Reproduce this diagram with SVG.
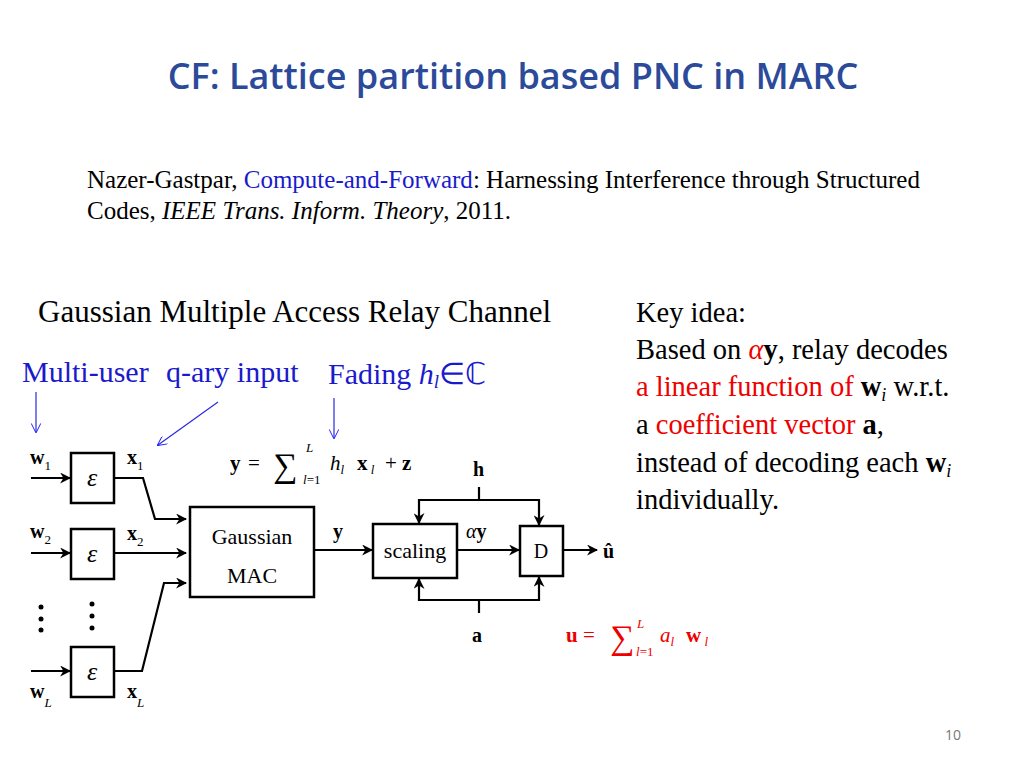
<svg xmlns="http://www.w3.org/2000/svg" width="1024" height="768" viewBox="0 0 1024 768">
<defs>
<marker id="ah" viewBox="0 0 10 10" refX="9" refY="5" markerWidth="5" markerHeight="5" orient="auto"><path d="M0,0 L10,5 L0,10 L3,5 z" fill="#000"/></marker>
<marker id="bh" viewBox="0 0 10 10" refX="9" refY="5" markerWidth="8" markerHeight="8" orient="auto"><path d="M0,0 L10,5 L0,10" fill="none" stroke="#1a1aff" stroke-width="1"/></marker>
</defs>
<style>
.t{font-family:"Liberation Serif",serif;fill:#000}
.r{fill:#e00}
.b{fill:#1a1acc}
.box{fill:#fff;stroke:#000;stroke-width:2.5}
.ln{fill:none;stroke:#000;stroke-width:2.2}
.bl{stroke:#2a2ae0;stroke-width:1.2;fill:none}
</style>
<rect width="1024" height="768" fill="#fff"/>
<text x="513" y="89" text-anchor="middle" font-family="'Open Sans','Noto Sans',sans-serif" font-size="36" font-weight="600" fill="#2b4a9a">CF: Lattice partition based PNC in MARC</text>
<text class="t" x="87" y="188" font-size="25">Nazer-Gastpar, <tspan class="b">Compute-and-Forward</tspan>: Harnessing Interference through Structured</text>
<text class="t" x="87" y="219" font-size="25">Codes, <tspan font-style="italic">IEEE Trans. Inform. Theory</tspan>, 2011.</text>
<text class="t" x="38" y="322" font-size="31">Gaussian Multiple Access Relay Channel</text>
<g font-size="28.5" class="t">
<text x="636" y="322">Key idea:</text>
<text x="636" y="359">Based on <tspan class="r" font-style="italic">α</tspan><tspan font-weight="bold">y</tspan>, relay decodes</text>
<text x="636" y="396"><tspan class="r">a linear function of </tspan><tspan font-weight="bold">w</tspan><tspan font-style="italic" font-size="18" dy="5">i</tspan><tspan dy="-5"> w.r.t.</tspan></text>
<text x="636" y="434">a <tspan class="r">coefficient vector </tspan><tspan font-weight="bold">a</tspan>,</text>
<text x="636" y="472">instead of decoding each <tspan font-weight="bold">w</tspan><tspan font-style="italic" font-size="18" dy="5">i</tspan></text>
<text x="636" y="509">individually.</text>
</g>
<text x="22" y="382" font-size="30" class="t b">Multi-user</text>
<text x="166" y="382" font-size="30" class="t b">q-ary input</text>
<text x="328" y="384" font-size="30" class="t b">Fading <tspan font-style="italic">h<tspan font-size="19" dy="4">l</tspan></tspan><tspan dy="-4">∈ℂ</tspan></text>
<g id="blue-arrows">
<line class="bl" x1="36" y1="392" x2="36" y2="432" marker-end="url(#bh)"/>
<line class="bl" x1="218" y1="402" x2="158" y2="445" marker-end="url(#bh)"/>
<line class="bl" x1="334" y1="398" x2="334" y2="438" marker-end="url(#bh)"/>
</g>
<g id="formula" class="t">
<text x="230" y="470" font-size="21" font-weight="bold">y</text>
<text x="248" y="470" font-size="21">=</text>
<text x="273" y="477" font-size="34">∑</text>
<text x="306" y="452" font-size="13" font-style="italic">L</text>
<text x="303" y="484" font-size="13"><tspan font-style="italic">l</tspan>=1</text>
<text x="330" y="470" font-size="21" font-style="italic">h<tspan font-size="13" dy="4">l</tspan></text>
<text x="357" y="470" font-size="21" font-weight="bold">x<tspan font-size="13" font-style="italic" font-weight="normal" dy="4"> l</tspan></text>
<text x="385" y="470" font-size="21">+ <tspan font-weight="bold">z</tspan></text>
</g>
<g id="encoders">
<rect class="box" x="71" y="453" width="43" height="50"/>
<rect class="box" x="71" y="529" width="43" height="50"/>
<rect class="box" x="71" y="647" width="43" height="50"/>
<text class="t" x="92" y="486" font-size="26" text-anchor="middle" font-style="italic">ε</text>
<text class="t" x="92" y="562" font-size="26" text-anchor="middle" font-style="italic">ε</text>
<text class="t" x="92" y="680" font-size="26" text-anchor="middle" font-style="italic">ε</text>
</g>
<g id="mac"><rect class="box" x="190" y="507" width="124" height="90"/>
<text class="t" x="252" y="544" font-size="22" text-anchor="middle">Gaussian</text>
<text class="t" x="252" y="583" font-size="22" text-anchor="middle">MAC</text></g>
<g id="scaling"><rect class="box" x="373" y="524" width="84" height="54"/>
<text class="t" x="415" y="558" font-size="22" text-anchor="middle">scaling</text></g>
<g id="D"><rect class="box" x="520" y="526" width="43" height="50"/>
<text class="t" x="541" y="558" font-size="20" text-anchor="middle">D</text></g>
<g id="labels" class="t" font-weight="bold" font-size="20">
<text x="30" y="464">w<tspan font-size="13" font-weight="normal" dy="6">1</tspan></text>
<text x="30" y="538">w<tspan font-size="13" font-weight="normal" dy="6">2</tspan></text>
<text x="30" y="698">w<tspan font-size="13" font-weight="normal" font-style="italic" dy="9">L</tspan></text>
<text x="127" y="464">x<tspan font-size="13" font-weight="normal" dy="6">1</tspan></text>
<text x="127" y="540">x<tspan font-size="13" font-weight="normal" dy="6">2</tspan></text>
<text x="127" y="698">x<tspan font-size="13" font-weight="normal" font-style="italic" dy="9">L</tspan></text>
<text x="333" y="538">y</text>
<text x="473" y="476">h</text>
<text x="472" y="642">a</text>
<text x="603" y="558">û</text>
<text x="466" y="538" font-weight="normal" font-style="italic">α<tspan font-weight="bold" font-style="normal">y</tspan></text>
</g>
<g id="dots" fill="#000">
<circle cx="41" cy="607" r="2.5"/><circle cx="41" cy="619" r="2.5"/><circle cx="41" cy="630" r="2.5"/>
<circle cx="92" cy="604" r="2.5"/><circle cx="92" cy="616" r="2.5"/><circle cx="92" cy="628" r="2.5"/>
</g>
<g id="connectors" marker-end="url(#ah)">
<line class="ln" x1="31" y1="478" x2="70" y2="478"/>
<line class="ln" x1="31" y1="553" x2="70" y2="553"/>
<line class="ln" x1="31" y1="671" x2="70" y2="671"/>
<polyline class="ln" points="114,478 143,478 155,519 186,519"/>
<line class="ln" x1="114" y1="553" x2="186" y2="553"/>
<polyline class="ln" points="114,671 142,671 164,583 186,583"/>
<line class="ln" x1="314" y1="550" x2="372" y2="550"/>
<line class="ln" x1="457" y1="550" x2="519" y2="550"/>
<line class="ln" x1="563" y1="550" x2="597" y2="550"/>
<polyline class="ln" points="479,500 419,500 419,523"/>
<polyline class="ln" points="479,500 539,500 539,525"/>
<polyline class="ln" points="479,600 419,600 419,579"/>
<polyline class="ln" points="479,600 539,600 539,577"/>
</g>
<g id="stubs"><line class="ln" x1="479" y1="487" x2="479" y2="501"/><line class="ln" x1="479" y1="613" x2="479" y2="599"/></g>
<g id="u-formula" class="t">
<text x="566" y="642" font-size="21" font-weight="bold" class="r">u<tspan font-weight="normal"> =</tspan></text>
<text x="610" y="649" font-size="34" class="r">∑</text>
<text x="637" y="628" font-size="13" font-style="italic" class="r">L</text>
<text x="636" y="656" font-size="13" class="r"><tspan font-style="italic">l</tspan>=1</text>
<text x="660" y="642" font-size="21" font-style="italic" class="r">a<tspan font-size="13" dy="4">l</tspan></text>
<text x="686" y="642" font-size="21" font-weight="bold" class="r">w<tspan font-size="13" font-style="italic" font-weight="normal" dy="4"> l</tspan></text>
</g>
<text x="953" y="740" font-size="14" text-anchor="middle" font-family="'Open Sans',sans-serif" fill="#777">10</text>
</svg>
